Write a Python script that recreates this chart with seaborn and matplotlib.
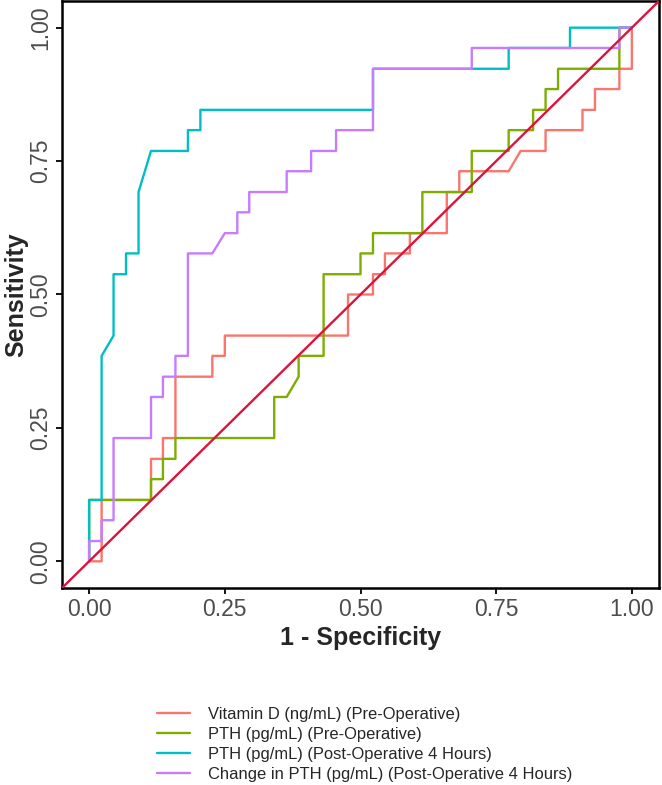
import pandas as pd
import seaborn as sns
import matplotlib.pyplot as plt

# ROC curves (x = 1 - specificity, y = sensitivity)
labels = [
    'Vitamin D (ng/mL) (Pre-Operative)',
    'PTH (pg/mL) (Pre-Operative)',
    'PTH (pg/mL) (Post-Operative 4 Hours)',
    'Change in PTH (pg/mL) (Post-Operative 4 Hours)',
]

vitd_fpr = [0, 0.023, 0.023, 0.114, 0.114, 0.136, 0.136, 0.159, 0.159, 0.227, 0.227,
            0.250, 0.250, 0.477, 0.477, 0.523, 0.523, 0.545, 0.545, 0.591, 0.591,
            0.659, 0.659, 0.682, 0.682, 0.773, 0.795, 0.841, 0.841, 0.909, 0.909,
            0.932, 0.932, 0.977, 0.977, 1.0, 1.0]
vitd_sens = [0, 0, 0.115, 0.115, 0.192, 0.192, 0.231, 0.231, 0.346, 0.346, 0.385,
             0.385, 0.423, 0.423, 0.500, 0.500, 0.538, 0.538, 0.577, 0.577, 0.615,
             0.615, 0.692, 0.692, 0.731, 0.731, 0.769, 0.769, 0.808, 0.808, 0.846,
             0.846, 0.885, 0.885, 0.923, 0.923, 1.0]

pth_pre_fpr = [0, 0, 0.114, 0.114, 0.136, 0.136, 0.159, 0.159, 0.341, 0.341, 0.364,
               0.386, 0.386, 0.432, 0.432, 0.500, 0.500, 0.523, 0.523, 0.614, 0.614,
               0.705, 0.705, 0.773, 0.773, 0.818, 0.818, 0.841, 0.841, 0.864, 0.864,
               0.977, 0.977, 1.0]
pth_pre_sens = [0, 0.115, 0.115, 0.154, 0.154, 0.192, 0.192, 0.231, 0.231, 0.308, 0.308,
                0.346, 0.385, 0.385, 0.538, 0.538, 0.577, 0.577, 0.615, 0.615, 0.692,
                0.692, 0.769, 0.769, 0.808, 0.808, 0.846, 0.846, 0.885, 0.885, 0.923,
                0.923, 1.0, 1.0]

pth_post_fpr = [0, 0, 0.023, 0.023, 0.045, 0.045, 0.068, 0.068, 0.091, 0.091, 0.114,
                0.182, 0.182, 0.205, 0.205, 0.523, 0.523, 0.773, 0.773, 0.886, 0.886, 1.0]
pth_post_sens = [0, 0.115, 0.115, 0.385, 0.423, 0.538, 0.538, 0.577, 0.577, 0.692, 0.769,
                 0.769, 0.808, 0.808, 0.846, 0.846, 0.923, 0.923, 0.962, 0.962, 1.0, 1.0]

delta_fpr = [0, 0, 0.023, 0.023, 0.045, 0.045, 0.114, 0.114, 0.136, 0.136, 0.159,
             0.159, 0.182, 0.182, 0.227, 0.250, 0.273, 0.273, 0.295, 0.295, 0.364,
             0.364, 0.409, 0.409, 0.455, 0.455, 0.523, 0.523, 0.705, 0.705, 0.977,
             0.977, 1.0]
delta_sens = [0, 0.038, 0.038, 0.077, 0.077, 0.231, 0.231, 0.308, 0.308, 0.346, 0.346,
              0.385, 0.385, 0.577, 0.577, 0.615, 0.615, 0.654, 0.654, 0.692, 0.692,
              0.731, 0.731, 0.769, 0.769, 0.808, 0.808, 0.923, 0.923, 0.962, 0.962,
              1.0, 1.0]

colors = ['#F8766D', '#7CAE00', '#00BFC4', '#C77CFF']

curves = [(vitd_fpr, vitd_sens), (pth_pre_fpr, pth_pre_sens),
          (pth_post_fpr, pth_post_sens), (delta_fpr, delta_sens)]
frames = []
for lab, (fx, fy) in zip(labels, curves):
    frames.append(pd.DataFrame({'fpr': fx, 'sens': fy, 'marker': lab}))
df = pd.concat(frames, ignore_index=True)

sns.set_style('white')
plt.rcParams['font.family'] = ['Liberation Sans', 'DejaVu Sans']

fig = plt.figure(figsize=(6.62, 7.85), dpi=100)
ax = fig.add_axes([62 / 662, 1 - 588 / 785, 597 / 662, 587 / 785])

sns.lineplot(data=df, x='fpr', y='sens', hue='marker', hue_order=labels,
             palette=colors, sort=False, estimator=None, linewidth=1.7, ax=ax)

# reference diagonal across the whole panel
ax.axline((0, 0), slope=1, color='#DC143C', linewidth=1.7, zorder=5)

ax.set_xlim(-0.05, 1.05)
ax.set_ylim(-0.05, 1.05)
ticks = [0, 0.25, 0.5, 0.75, 1.0]
ax.set_xticks(ticks)
ax.set_yticks(ticks)
ax.set_xticklabels(['0.00', '0.25', '0.50', '0.75', '1.00'])
ax.set_yticklabels(['0.00', '0.25', '0.50', '0.75', '1.00'], rotation=90, va='center')
ax.tick_params(axis='both', labelsize=16.5, labelcolor='#4D4D4D', length=4,
               width=1.3, color='black', direction='out', bottom=True, left=True, pad=3)
ax.set_xlabel('1 - Specificity', fontsize=18, fontweight='bold', labelpad=4)
ax.set_ylabel('Sensitivity', fontsize=18, fontweight='bold', labelpad=1)
for s in ax.spines.values():
    s.set_color('black')
    s.set_linewidth(1.8)

handles, _ = ax.get_legend_handles_labels()
ax.legend(handles, labels, loc='upper left', bbox_to_anchor=(149 / 662, 1 - 699 / 785),
          bbox_transform=fig.transFigure, frameon=False, fontsize=11.9,
          handlelength=2.0, handletextpad=1.1, labelspacing=0.3, borderpad=0)

fig.savefig('out.png', dpi=100)
